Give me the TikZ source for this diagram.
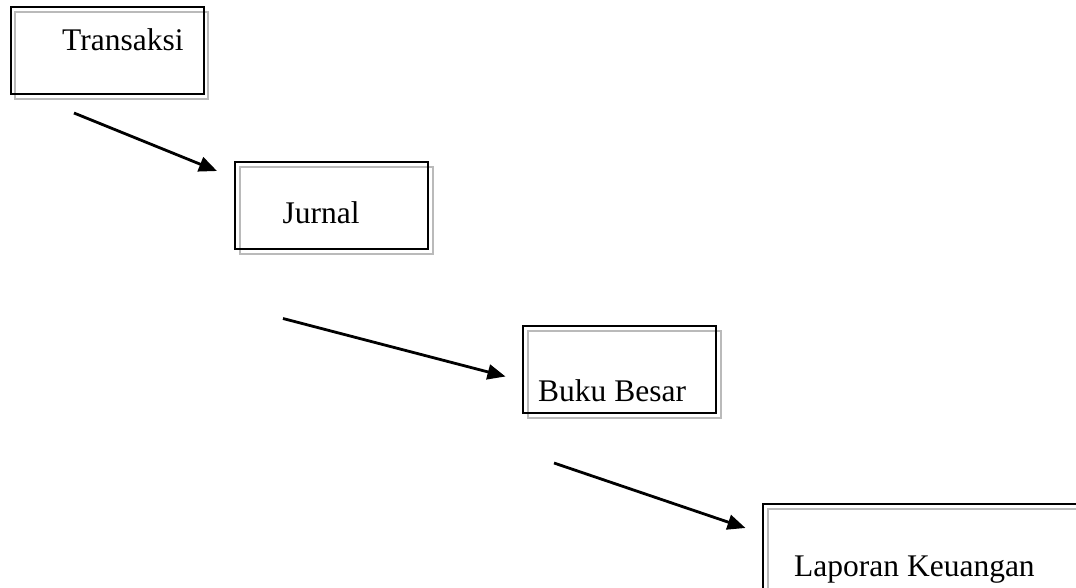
\documentclass[tikz,border=0pt]{standalone}
\usepackage{fontspec}
\setmainfont{Liberation Serif}
\usepackage{tikz}
\usetikzlibrary{arrows.meta,positioning}

\begin{document}
\begin{tikzpicture}[
    x=1pt, y=-1pt,
    box/.style={
        rectangle,
        draw=black,
        line width=2pt,
        minimum width=193pt,
        minimum height=87pt,
        inner sep=0pt
    },
    shade box/.style={
        rectangle,
        draw=black!27,
        line width=2pt,
        minimum width=193pt,
        minimum height=87pt,
        inner sep=0pt
    },
    caption/.style={
        anchor=base west,
        inner sep=0pt,
        font=\fontsize{31.5}{38}\selectfont
    },
    arrow/.style={
        -{Triangle[length=18pt,width=15pt]},
        line width=2.8pt
    }
]
\useasboundingbox (0,0) rectangle (1076,588);
\clip (0,0) rectangle (1076,588);

% Shadows
\node[shade box, anchor=north west] (transshade) at (14,11.5) {};
\node[shade box, anchor=north west] (jurnalshade) at (238.5,166) {};
\node[shade box, anchor=north west] (bukushade) at (526.5,329.5) {};
\node[shade box, anchor=north west, minimum width=340pt] (laporanshade) at (766.5,507.5) {};

% Boxes
\node[box, anchor=north west] (transaksi) at (9.5,6) {};
\node[box, anchor=north west] (jurnal) at (233.5,161) {};
\node[box, anchor=north west] (buku) at (521.5,324.5) {};
\node[box, anchor=north west, minimum width=340pt] (laporan) at (761.5,502.5) {};

% Labels
\node[caption] (transtext) at (62,50.5) {Transaksi};
\node[caption] (jurnaltext) at (282.5,224) {Jurnal};
\node[caption] (bukutext) at (538,401) {Buku Besar};
\node[caption] (laporantext) at (794,576) {Laporan Keuangan};

% Arrow ends
\coordinate (a1s) at (74,113);
\coordinate (a1e) at (217,171);
\coordinate (a2s) at (283,318.5);
\coordinate (a2e) at (505.5,376.5);
\coordinate (a3s) at (554,463);
\coordinate (a3e) at (745.5,528);

% Arrows
\draw[arrow] (a1s) -- (a1e);
\draw[arrow] (a2s) -- (a2e);
\draw[arrow] (a3s) -- (a3e);

\end{tikzpicture}
\end{document}
